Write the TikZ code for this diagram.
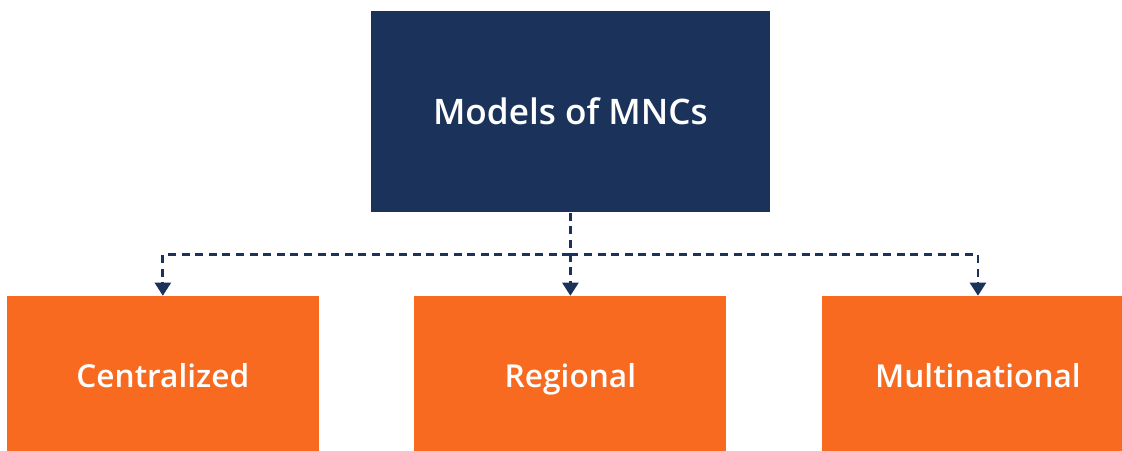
\documentclass[tikz,border=0pt]{standalone}
\usepackage{fontspec}
\setmainfont{Open Sans}
\newfontfamily\boxfont{Open Sans Semibold}
\usepackage{tikz}
\usetikzlibrary{positioning,arrows.meta}
\definecolor{navy}{HTML}{1B335B}
\definecolor{mncorange}{HTML}{F96A21}
\tikzset{
  boxtext/.style={text=white,inner sep=0pt,text height=16.5pt,text depth=0pt,
    font=\boxfont\fontsize{22.5}{27}\selectfont},
  headbox/.style={rectangle,boxtext,fill=navy,minimum width=9.975cm,
    minimum height=5.025cm,text height=18pt,font=\boxfont\fontsize{25}{30}\selectfont},
  modelbox/.style={rectangle,boxtext,fill=mncorange,minimum width=7.8cm,
    minimum height=4cm},
  dashline/.style={draw=navy,line width=2pt,dash pattern=on 0.2cm off 0.14cm},
  tip/.style={-{Triangle[width=0.4cm,length=0.33cm]}},
  node distance=2.375cm
}
\begin{document}
\begin{tikzpicture}
  \useasboundingbox (0,0) rectangle (28.05,11.25);

  \node [headbox] (mnc) at (14.26,8.45) {Models of MNCs};
  \node [modelbox,below=2.075cm of mnc] (reg) {Regional};
  \node [modelbox,left=of reg] (cen) {Centralized};
  \node [modelbox,right=of reg] (mul) {Multinational};
  \coordinate [below=1.05cm of mnc.south] (hub);

  % dashed tree under the head box
  \draw [dashline,tip] (mnc.south) -- (reg.north);
  \draw [dashline,tip] (hub) -| (cen.north);
  \draw [dashline,tip] (hub) -| (mul.north);

\end{tikzpicture}
\end{document}
